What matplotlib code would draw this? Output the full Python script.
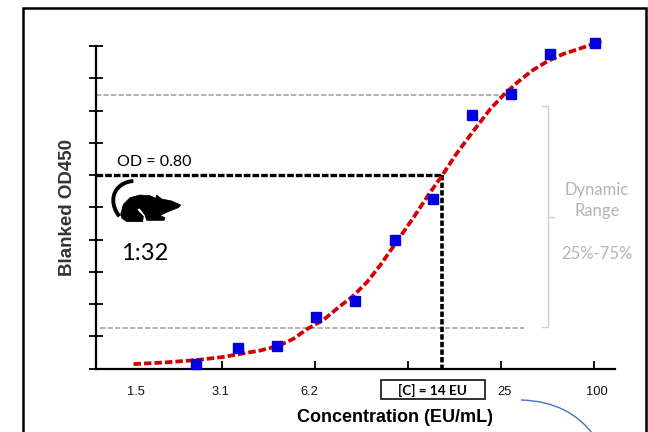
import matplotlib
matplotlib.use("Agg")
import matplotlib.pyplot as plt
from matplotlib.patches import Polygon, Rectangle, PathPatch
from matplotlib.path import Path

# values
conc = [2.55, 3.49, 4.68, 6.24, 8.36, 11.2, 14.9, 20.0, 26.6, 35.6, 50.0]
od = [0.019, 0.085, 0.094, 0.214, 0.280, 0.532, 0.700, 1.048, 1.135, 1.300, 1.345]

fit_conc = [1.60, 2.03, 2.57, 3.10, 3.55, 4.11, 4.71, 5.26, 5.84, 6.58, 7.47, 8.17, 9.14, 10.07,
            11.09, 13.0, 14.4, 16.0, 17.7, 19.8, 22.8, 25.2, 28.1, 31.2, 35.2, 39.4, 44.7, 52.3]
fit_od = [0.019, 0.026, 0.036, 0.048, 0.061, 0.075, 0.094, 0.123, 0.164, 0.201, 0.259, 0.297, 0.359, 0.428,
          0.504, 0.631, 0.717, 0.800, 0.885, 0.969, 1.071, 1.130, 1.185, 1.231, 1.272, 1.300, 1.323, 1.353]

od_read = 0.80
conc_read = 16.0
od_low = 0.168
od_high = 1.13

xticks = [3.1, 6.2, 12.4, 24.8, 49.6]
yticks = [0.1333 * i for i in range(11)]
xtick_labels = ["1.5", "3.1", "6.2", "25", "100"]

W, H = 648, 432
fig = plt.figure(figsize=(W / 100, H / 100), dpi=100)

# main axes placed on the pixel box of the picture
ax = fig.add_axes([96 / W, 1 - 368.7 / H, (615 - 96) / W, (368.7 - 30) / H])
ax.set_xscale("log", base=2)
ax.set_xlim(1.21, 57.9)
ax.set_ylim(0, 1.399)
ax.patch.set_alpha(0)

for s in ["top", "right"]:
    ax.spines[s].set_visible(False)
ax.spines["left"].set_linewidth(1.6)
ax.spines["bottom"].set_linewidth(1.6)
ax.spines["left"].set_bounds(0, 1.333)

ax.set_xticks(xticks)
ax.set_xticklabels([])
ax.minorticks_off()
ax.set_yticks(yticks)
ax.set_yticklabels([])
ax.tick_params(axis="x", direction="in", length=5.5, width=1.3)
ax.tick_params(axis="y", direction="inout", length=9.5, width=1.3)

ax.plot([1.21, 26], [od_high, od_high], color="#a6a6a6", lw=1.2, ls=(0, (3.2, 1.3)))
ax.plot([1.243, 29.3], [od_low, od_low], color="#a6a6a6", lw=1.2, ls=(0, (3.2, 1.3)))

ax.plot([1.21, conc_read], [od_read, od_read], color="black", lw=2.4, ls=(0, (2.0, 0.6)))
ax.plot([conc_read, conc_read], [od_read, 0], color="black", lw=2.6, ls=(0, (1.5, 0.6)))

ax.plot(fit_conc, fit_od, color="#d40000", lw=2.7, ls=(0, (2.0, 0.8)), zorder=3, clip_on=False)
ax.plot(conc, od, ls="none", marker="s", ms=7, color="#0000e0", zorder=4, clip_on=False)

# overlay in pixels for the annotations
ov = fig.add_axes([0, 0, 1, 1])
ov.set_xlim(0, W)
ov.set_ylim(H, 0)
ov.axis("off")
ov.patch.set_alpha(0)

# outer frame, runs off the bottom
ov.plot([22.5, 22.5, 646, 646], [440, 8, 8, 440], color="black", lw=1.8, solid_joinstyle="miter")

# dynamic range bracket
ov.plot([542, 548, 548, 542], [105.5, 105.5, 327, 327], color="#cfcfcf", lw=1)
ov.plot([548, 554], [216.5, 216.5], color="#cfcfcf", lw=1)

lato = "Lato"
ov.text(597, 189.5, "Dynamic", ha="center", va="center", color="#b4b4b4", fontsize=12, family=lato)
ov.text(597, 211, "Range", ha="center", va="center", color="#b4b4b4", fontsize=12, family=lato)
ov.text(597, 254, "25%-75%", ha="center", va="center", color="#b4b4b4", fontsize=12, family=lato)
ov.text(154, 162, "OD = 0.80", ha="center", va="center", color="black", fontsize=11.5, family=lato)
ov.text(145, 253, "1:32", ha="center", va="center", color="black", fontsize=17, family=lato)

# x labels sit at their own places in the source, not under the ticks
lab = "Liberation Sans"
for px, txt in zip([135.5, 220.5, 309, 504.5, 597], xtick_labels):
    ov.text(px, 392, txt, ha="center", va="center", fontsize=9.3, family=lab, color="#111111")

ov.add_patch(Rectangle((381, 379.5), 103.5, 19, fc="white", ec="#222222", lw=1.3))
ov.text(432.5, 390, "[C] = 14 EU", ha="center", va="center", fontsize=9.8, family=lato, weight="bold")

ov.text(395, 417, "Concentration (EU/mL)", ha="center", va="center", fontsize=13, family=lab, weight="bold")
ov.text(68, 208, "Blanked OD450", ha="center", va="center", rotation=90, fontsize=13.5, family=lab,
        weight="bold", color="#333333")

# blue arc at the bottom
arc = Path([(521, 400), (555, 401), (577, 414), (592, 433)], [Path.MOVETO, Path.CURVE4, Path.CURVE4, Path.CURVE4])
ov.add_patch(PathPatch(arc, fc="none", ec="#4472c4", lw=1))

def mx(v):
    return 100 + v / 3

def my(v):
    return 175 + v / 3

body = [(62, 118), (70, 88), (90, 68), (120, 60), (150, 62), (167, 70), (170, 60), (185, 72), (215, 78),
        (242, 90), (235, 98), (200, 112), (180, 122), (195, 128), (192, 136), (140, 136), (135, 120),
        (120, 100), (112, 100), (114, 108), (130, 124), (128, 140), (80, 140), (66, 130)]
ov.add_patch(Polygon([(mx(a), my(b)) for a, b in body], closed=True, fc="black", ec="black", lw=0.5))
tail = Path([(mx(100), my(18)), (mx(45), my(22)), (mx(20), my(75)), (mx(58), my(124))],
            [Path.MOVETO, Path.CURVE4, Path.CURVE4, Path.CURVE4])
ov.add_patch(PathPatch(tail, fc="none", ec="black", lw=2.8))

fig.savefig("out.png", dpi=100)
